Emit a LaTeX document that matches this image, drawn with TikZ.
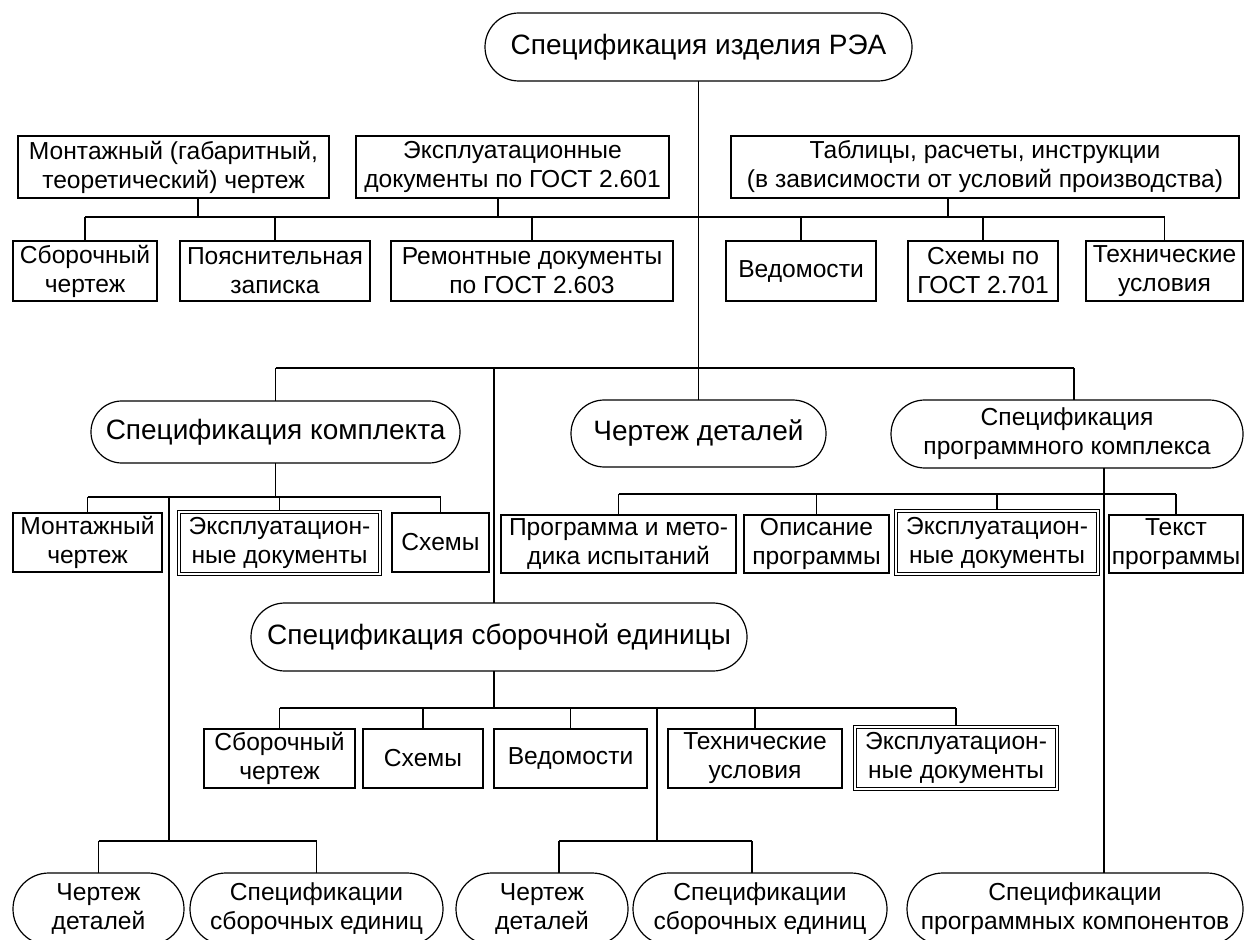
\documentclass[tikz,border=0pt]{standalone}
\usepackage{fontspec}
\setmainfont{Liberation Sans}
\newcommand\bigf{\fontsize{14}{16}\selectfont}
\newcommand\smf{\fontsize{12.3}{14.5}\selectfont}
% [style]{x1}{y1}{x2}{y2}{text}{name}  (pixel coordinates)
\newcommand\mybox[7][]{\node[box,#1,minimum width={(#4-#2)*0.5pt},minimum height={(#5-#3)*0.5pt}] (#7) at ({(#2+#4)/2},{(#3+#5)/2}) {#6};}
\newcommand\mystad[7][]{\node[box,#1,rounded corners={(#5-#3)*0.25pt-0.05pt},minimum width={(#4-#2)*0.5pt},minimum height={(#5-#3)*0.5pt}] (#7) at ({(#2+#4)/2},{(#3+#5)/2}) {#6};}
\tikzset{
  box/.style={draw, line width=0.6pt, inner sep=0pt, outer sep=0pt, align=center, font=\smf},
  big/.style={font=\bigf},
  dbl/.style={double, double distance=1.25pt, outer sep=0.9pt},
  conn/.style={line width=0.6pt}
}
\begin{document}
\begin{tikzpicture}[x=0.5pt,y=-0.5pt]
\useasboundingbox (0,0) rectangle (1245,940);
\clip (0,0) rectangle (1245,940);
% level 0
\mystad[big]{485}{13}{912}{81}{Спецификация изделия РЭА}{top}
% row 1
\mybox{18}{136}{329}{198}{Монтажный (габаритный,\\теоретический) чертеж}{r1a}
\mybox{356}{136}{669}{198}{Эксплуатационные\\документы по ГОСТ 2.601}{r1b}
\mybox{731}{136}{1239}{198}{Таблицы, расчеты, инструкции\\(в зависимости от условий производства)}{r1c}
% row 2
\mybox{13}{241}{157}{301}{Сборочный\\чертеж}{r2a}
\mybox{180}{241}{370}{301}{Пояснительная\\записка}{r2b}
\mybox{391}{241}{673}{301}{Ремонтные документы\\по ГОСТ 2.603}{r2c}
\mybox{726}{241}{876}{301}{Ведомости}{r2d}
\mybox{908}{241}{1058}{301}{Схемы по\\ГОСТ 2.701}{r2e}
\mybox{1086}{241}{1243}{301}{Технические\\условия}{r2f}
% level 2
\mystad[big]{91}{401}{460}{463}{Спецификация комплекта}{l2a}
\mystad[big]{571}{400}{826}{467}{Чертеж деталей}{cd}
\mystad{891}{400}{1243}{468}{Спецификация\\программного комплекса}{l2c}
% under комплект
\mybox{13}{513}{162}{572}{Монтажный\\чертеж}{k1}
\mybox[dbl]{179}{512}{380}{574}{Эксплуатацион-\\ные документы}{k2}
\mybox{392}{513}{489}{572}{Схемы}{k3}
% under программный комплекс
\mybox{501}{515}{736}{573}{Программа и мето-\\дика испытаний}{p1}
\mybox{744}{515}{889}{573}{Описание\\программы}{p2}
\mybox[dbl]{896}{511}{1098}{574}{Эксплуатацион-\\ные документы}{p3}
\mybox{1109}{515}{1243}{573}{Текст\\программы}{p4}
% сборочная единица
\mystad[big]{251}{603}{747}{671}{Спецификация сборочной единицы}{l3}
\mybox{204}{729}{355}{788}{Сборочный\\чертеж}{s1}
\mybox{363}{729}{483}{788}{Схемы}{s2}
\mybox{494}{729}{647}{788}{Ведомости}{s3}
\mybox{668}{729}{842}{788}{Технические\\условия}{s4}
\mybox[dbl]{855}{727}{1057}{789}{Эксплуатацион-\\ные документы}{s5}
% bottom row
\mystad{13}{873}{184}{945}{Чертеж\\деталей}{b1}
\mystad{190}{873}{443}{945}{Спецификации\\сборочных единиц}{b2}
\mystad{456}{873}{628}{945}{Чертеж\\деталей}{b3}
\mystad{633}{873}{887}{945}{Спецификации\\сборочных единиц}{b4}
\mystad{907}{873}{1243}{945}{Спецификации\\программных компонентов}{b5}
% bus coordinates
\coordinate (y1) at (0,217);
\coordinate (c1a) at (198,217);
\coordinate (c1b) at (498,217);
\coordinate (c1c) at (948,217);
\coordinate (y2) at (0,368);
\coordinate (c2s) at (494,368);
\coordinate (c2c) at (1074,368);
\coordinate (y3) at (0,497);
\coordinate (c3) at (169,497);
\coordinate (y4) at (0,841);
\coordinate (y5) at (0,494);
\coordinate (c5) at (1104,0);
\coordinate (y6) at (0,708);
\coordinate (c6) at (657,708);
\coordinate (c7a) at (559,841);
\coordinate (c7b) at (752,841);
% connectors
\draw[conn] (top.south) -- (cd.north);
\draw[conn] (r1a.south -| c1a) -- (c1a);
\draw[conn] (r1b.south -| c1b) -- (c1b);
\draw[conn] (r1c.south -| c1c) -- (c1c);
\draw[conn] (r2a.north |- y1) -- (r2f.north |- y1);
\foreach \n in {r2a,r2b,r2c,r2d,r2e,r2f} \draw[conn] (\n.north) -- (\n.north |- y1);
\draw[conn] (l2a.north |- y2) -- (c2c);
\draw[conn] (l2a.north) -- (l2a.north |- y2);
\draw[conn] (c2c) -- (c2c |- l2c.north);
\draw[conn] (c2s) -- (c2s |- l3.north);
% комплект
\draw[conn] (l2a.south) -- (l2a.south |- y3);
\draw[conn] (k1.north |- y3) -- (k3.north |- y3);
\foreach \n in {k1,k2,k3} \draw[conn] (\n.north) -- (\n.north |- y3);
\draw[conn] (c3) -- (c3 |- y4);
\draw[conn] (b1.north |- y4) -- (b2.north |- y4);
\draw[conn] (b1.north) -- (b1.north |- y4);
\draw[conn] (b2.north) -- (b2.north |- y4);
% программный комплекс
\draw[conn] (l2c.south -| c5) -- (b5.north -| c5);
\draw[conn] (p1.north |- y5) -- (p4.north |- y5);
\foreach \n in {p1,p2,p3,p4} \draw[conn] (\n.north) -- (\n.north |- y5);
% сборочная единица
\draw[conn] (l3.south -| c2s) -- (c2s |- y6);
\draw[conn] (s1.north |- y6) -- (s5.north |- y6);
\foreach \n in {s1,s2,s3,s4,s5} \draw[conn] (\n.north) -- (\n.north |- y6);
\draw[conn] (c6) -- (c6 |- y4);
\draw[conn] (c7a) -- (c7b);
\draw[conn] (c7a) -- (c7a |- b3.north);
\draw[conn] (c7b) -- (c7b |- b4.north);
\end{tikzpicture}
\end{document}
